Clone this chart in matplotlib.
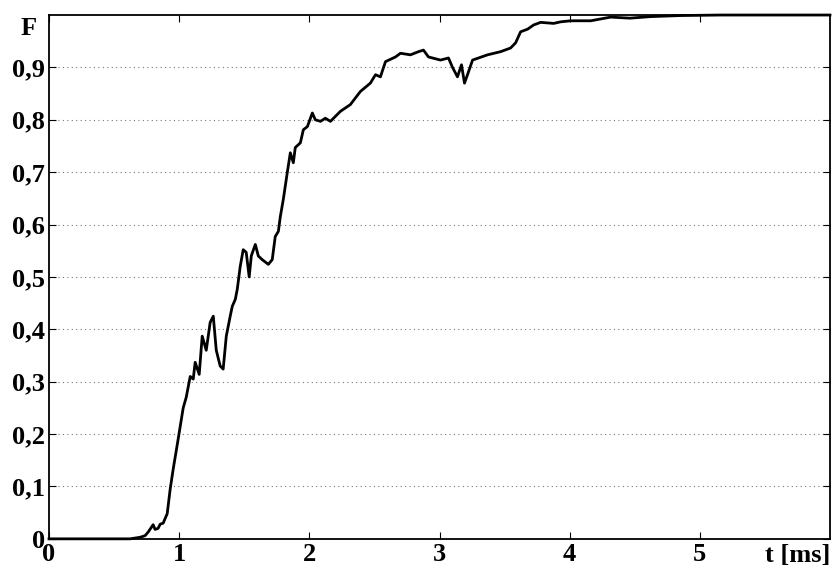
import numpy as np
import matplotlib
matplotlib.use("Agg")
import matplotlib.pyplot as plt

# values (t in ms, F dimensionless)
t_ms = [0.0, 0.546, 0.623, 0.70, 0.738, 0.762, 0.80, 0.815, 0.838, 0.854, 0.877, 0.908,
        0.931, 0.954, 0.992, 1.031, 1.054, 1.085, 1.108, 1.123, 1.154, 1.177, 1.208,
        1.238, 1.262, 1.285, 1.315, 1.338, 1.362, 1.392, 1.408, 1.431, 1.446, 1.469,
        1.492, 1.515, 1.538, 1.554, 1.585, 1.608, 1.638, 1.685, 1.715, 1.738, 1.762,
        1.777, 1.80, 1.831, 1.854, 1.877, 1.892, 1.931, 1.954, 1.985, 2.023, 2.046,
        2.085, 2.123, 2.162, 2.238, 2.315, 2.392, 2.469, 2.508, 2.546, 2.585, 2.662,
        2.70, 2.777, 2.838, 2.877, 2.915, 3.008, 3.069, 3.10, 3.138, 3.169, 3.192,
        3.215, 3.254, 3.30, 3.369, 3.469, 3.546, 3.585, 3.623, 3.677, 3.723, 3.777,
        3.877, 3.931, 4.008, 4.162, 4.315, 4.462, 4.623, 4.854, 5.162, 6.0]
F = [0.0, 0.0, 0.0, 0.003, 0.006, 0.013, 0.027, 0.018, 0.02, 0.028, 0.03, 0.048,
     0.095, 0.133, 0.19, 0.25, 0.27, 0.31, 0.305, 0.337, 0.314, 0.387, 0.36,
     0.413, 0.425, 0.36, 0.33, 0.324, 0.387, 0.425, 0.444, 0.457, 0.476, 0.52,
     0.552, 0.547, 0.50, 0.54, 0.562, 0.54, 0.533, 0.524, 0.533, 0.577, 0.587,
     0.615, 0.648, 0.70, 0.737, 0.718, 0.747, 0.756, 0.781, 0.787, 0.813, 0.80,
     0.797, 0.803, 0.797, 0.816, 0.829, 0.854, 0.87, 0.886, 0.882, 0.911, 0.92,
     0.927, 0.924, 0.93, 0.933, 0.92, 0.914, 0.918, 0.90, 0.882, 0.905, 0.87,
     0.886, 0.914, 0.918, 0.924, 0.93, 0.937, 0.947, 0.968, 0.973, 0.981, 0.986,
     0.984, 0.987, 0.989, 0.989, 0.996, 0.994, 0.997, 0.999, 1.0, 1.0]

x_ticks = [0, 1, 2, 3, 4, 5]
y_ticks = [0, 0.1, 0.2, 0.3, 0.4, 0.5, 0.6, 0.7, 0.8, 0.9]
y_labels = ["0", "0,1", "0,2", "0,3", "0,4", "0,5", "0,6", "0,7", "0,8", "0,9"]

font = {"family": "Liberation Serif", "weight": "bold", "size": 19}

fig = plt.figure(figsize=(8.32, 5.69), dpi=100)
ax = fig.add_axes([0.0589, 0.053, 0.9387, 0.9206])

ax.plot(t_ms, F, color="black", lw=2.0, clip_on=False, zorder=3)

ax.set_xlim(0, 6)
ax.set_ylim(0, 1)
ax.set_xticks(x_ticks)
ax.set_xticklabels([str(v) for v in x_ticks], fontdict=font)
ax.set_yticks(y_ticks)
ax.set_yticklabels(y_labels, fontdict=font)
ax.tick_params(direction="in", length=5, width=0.8, top=True, right=True)
ax.tick_params(axis="x", pad=3)
ax.tick_params(axis="y", pad=3)

ax.yaxis.grid(True, linestyle=(0, (1, 3)), color="#777777", lw=0.8)
for s in ax.spines.values():
    s.set_linewidth(1.3)

ax.text(-0.155, 0.975, "F", ha="center", va="center", fontdict=font, clip_on=False)
ax.text(5.75, -0.032, "t [ms]", ha="center", va="center", fontdict=font, clip_on=False)

fig.savefig("out.png", dpi=100)
